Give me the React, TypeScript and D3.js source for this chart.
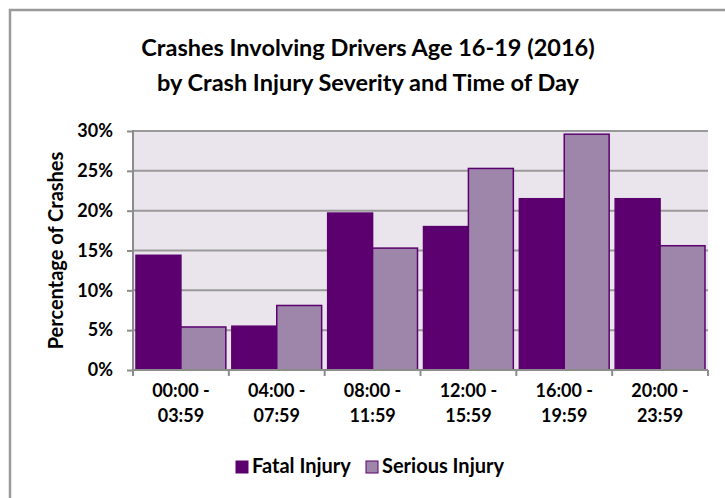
import React, { useEffect, useRef } from 'react';
import * as d3 from 'd3';

const categories = ['00:00 - 03:59', '04:00 - 07:59', '08:00 - 11:59', '12:00 - 15:59', '16:00 - 19:59', '20:00 - 23:59'];
const seriesNames = ['Fatal Injury', 'Serious Injury'];
const fatal = [14.4, 5.5, 19.7, 18.0, 21.5, 21.5];
const serious = [5.4, 8.1, 15.3, 25.3, 29.6, 15.6];
const yTicks = [0, 5, 10, 15, 20, 25, 30];
const colors = ['#5b006e', '#9e86aa'];

export default function App() {
  const svgRef = useRef<SVGSVGElement>(null);

  useEffect(() => {
    if (!svgRef.current) return;
    const svg = d3.select(svgRef.current);
    svg.selectAll('*').remove();

    const font = 'Lato, "Open Sans", sans-serif';
    const left = 133, right = 708, top = 131, bottom = 370;

    svg.append('rect').attr('width', 725).attr('height', 498).attr('fill', '#fff');
    // outer frame
    svg.append('rect')
      .attr('x', 10).attr('y', 10).attr('width', 730).attr('height', 500)
      .attr('fill', 'none').attr('stroke', '#9a9a9a').attr('stroke-width', 2.5);

    // title
    const title = svg.append('text')
      .attr('text-anchor', 'middle')
      .attr('font-family', font).attr('font-weight', 700).attr('font-size', 23.5)
      .attr('fill', '#000');
    title.append('tspan').attr('x', 368).attr('y', 56).text('Crashes Involving Drivers Age 16-19 (2016)');
    title.append('tspan').attr('x', 368).attr('y', 91).text('by Crash Injury Severity and Time of Day');

    const x0 = d3.scaleBand().domain(categories).range([left, right]).paddingInner(0).paddingOuter(0);
    const x1 = d3.scaleBand().domain(seriesNames).range([3, x0.bandwidth() - 3]).padding(0);
    const y = d3.scaleLinear().domain([0, 30]).range([bottom, top]);

    // plot background
    svg.append('rect')
      .attr('x', left).attr('y', top).attr('width', right - left).attr('height', bottom - top)
      .attr('fill', '#eae5ec');

    // gridlines
    svg.append('g').selectAll('line').data(yTicks.filter(d => d > 0)).enter().append('line')
      .attr('x1', left).attr('x2', right)
      .attr('y1', d => y(d)).attr('y2', d => y(d))
      .attr('stroke', '#9a9a9a').attr('stroke-width', 2);

    // bars
    const data = categories.map((c, i) => ({ c, vals: [fatal[i], serious[i]] }));
    const groups = svg.append('g').selectAll('g').data(data).enter().append('g')
      .attr('transform', d => `translate(${x0(d.c)},0)`);
    groups.selectAll('rect').data(d => d.vals.map((v, j) => ({ v, s: seriesNames[j], j }))).enter().append('rect')
      .attr('x', d => x1(d.s)!)
      .attr('y', d => y(d.v))
      .attr('width', x1.bandwidth())
      .attr('height', d => bottom - y(d.v))
      .attr('fill', d => colors[d.j])
      .attr('stroke', '#5b006e').attr('stroke-width', 1.5);

    // y axis
    const yAxis = svg.append('g')
      .attr('transform', `translate(${left},0)`)
      .call(d3.axisLeft(y).tickValues(yTicks).tickSize(6).tickPadding(14).tickFormat(d => `${d}%`));
    yAxis.selectAll('path, line').attr('stroke', '#8c8c8c').attr('stroke-width', 2);
    yAxis.select('.domain').attr('d', `M0,${top - 1}V${bottom}`);
    yAxis.selectAll('text').attr('font-family', font).attr('font-weight', 700).attr('font-size', 18).attr('fill', '#000');

    // x axis
    const xAxis = svg.append('g').attr('transform', `translate(0,${bottom})`);
    xAxis.append('line').attr('x1', left).attr('x2', right).attr('stroke', '#8c8c8c').attr('stroke-width', 2);
    const boundaries = categories.map(c => x0(c)!).concat([right]);
    xAxis.selectAll('.tk').data(boundaries).enter().append('line')
      .attr('x1', d => d).attr('x2', d => d).attr('y1', 0).attr('y2', 6)
      .attr('stroke', '#8c8c8c').attr('stroke-width', 2);
    const lbl = xAxis.selectAll('.lbl').data(categories).enter().append('text')
      .attr('text-anchor', 'middle')
      .attr('font-family', font).attr('font-weight', 700).attr('font-size', 18).attr('fill', '#000');
    lbl.each(function (d) {
      const parts = d.split(' - ');
      const cx = x0(d)! + x0.bandwidth() / 2;
      const t = d3.select(this);
      t.append('tspan').attr('x', cx).attr('y', 27).text(parts[0] + ' -');
      t.append('tspan').attr('x', cx).attr('y', 52).text(parts[1]);
    });

    // y axis title
    svg.append('text')
      .attr('transform', `translate(63,${(top + bottom) / 2}) rotate(-90)`)
      .attr('text-anchor', 'middle')
      .attr('font-family', font).attr('font-weight', 700).attr('font-size', 20).attr('fill', '#000')
      .text('Percentage of Crashes');

    // legend
    const legendX = [236, 366];
    const legend = svg.append('g').selectAll('g').data(seriesNames).enter().append('g')
      .attr('transform', (d, i) => `translate(${legendX[i]},461)`);
    legend.append('rect').attr('width', 12).attr('height', 12)
      .attr('fill', (d, i) => colors[i]).attr('stroke', '#5b006e').attr('stroke-width', 1);
    legend.append('text').attr('x', 16).attr('y', 12)
      .attr('font-family', font).attr('font-weight', 700).attr('font-size', 20).attr('fill', '#000')
      .text(d => d);
  }, []);

  return <svg ref={svgRef} width={725} height={498} style={{ display: 'block', position: 'absolute', left: 0, top: 0 }} />;
}
